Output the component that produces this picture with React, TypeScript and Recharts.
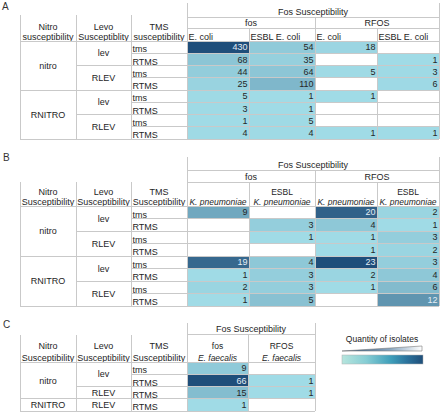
import React from 'react';
import { ScatterChart, Scatter, XAxis, YAxis, ReferenceArea } from 'recharts';

const FONT = '"Liberation Sans", Arial, Helvetica, sans-serif';
const STROKE = '#c9c9c9';
const LIGHT = [160, 219, 230];
const DARK = [31, 78, 122];

// row labels
const nitroAB = ['nitro', 'nitro', 'nitro', 'nitro', 'RNITRO', 'RNITRO', 'RNITRO', 'RNITRO'];
const levoAB = ['lev', 'lev', 'RLEV', 'RLEV', 'lev', 'lev', 'RLEV', 'RLEV'];
const tmsAB = ['tms', 'RTMS', 'tms', 'RTMS', 'tms', 'RTMS', 'tms', 'RTMS'];
const nitroC = ['nitro', 'nitro', 'nitro', 'RNITRO'];
const levoC = ['lev', 'lev', 'RLEV', 'RLEV'];
const tmsC = ['tms', 'RTMS', 'RTMS', 'RTMS'];

// header texts
const leftHeadA = [['Nitro', 'susceptibility'], ['Levo', 'Susceptiblity'], ['TMS', 'susceptibility']];
const leftHeadBC = [['Nitro', 'Susceptibility'], ['Levo', 'Susceptibility'], ['TMS', 'Susceptibility']];
const groupsAB = ['fos', 'RFOS'];
const speciesA = ['E. coli', 'ESBL E. coli', 'E. coli', 'ESBL E. coli'];
const speciesB = [['', 'K. pneumoniae'], ['ESBL', 'K. pneumoniae'], ['', 'K. pneumoniae'], ['ESBL', 'K. pneumoniae']];
const speciesC = [['fos', 'E. faecalis'], ['RFOS', 'E. faecalis']];

// panel A - E. coli
const fosEcoliA = [430, 68, 44, 25, 5, 3, 1, 4];
const fosEsblEcoliA = [54, 35, 64, 110, 1, 1, 5, 4];
const rfosEcoliA = [18, null, 5, null, 1, null, null, 1];
const rfosEsblEcoliA = [null, 1, 3, 6, null, null, null, 1];

// panel B - K. pneumoniae
const fosKpnB = [9, null, null, null, 19, 1, 2, 1];
const fosEsblKpnB = [null, 3, 1, null, 4, 3, 3, 5];
const rfosKpnB = [20, 4, 1, 1, 23, 2, 1, null];
const rfosEsblKpnB = [2, 1, 3, 2, 3, 4, 6, 12];

// panel C - E. faecalis
const fosEfC = [9, 66, 15, 1];
const rfosEfC = [null, 1, 1, null];

type Txt = { t: string; i?: boolean };
type Box = {
  key: string;
  x1: number;
  x2: number;
  y1: number;
  y2: number;
  fill: string;
  sides: string;
  lines: Txt[];
  align: 'start' | 'middle';
  valign: 'center' | 'bottom';
  size: number;
  gap: number;
  pad: number;
};
type Pt = { x: number; y: number; v: number; dark: boolean };

type Layout = {
  id: string;
  cols: number[];
  fosTop: number;
  fosBottom: number;
  groupBottom: number | null;
  leftTop: number;
  headBottom: number;
  rowH: number;
  gap: number;
};

const layoutA: Layout = { id: 'A', cols: [20, 76, 131, 187, 249, 315, 377, 439], fosTop: 3, fosBottom: 17, groupBottom: 28, leftTop: 15, headBottom: 41, rowH: 12.25, gap: 10 };
const layoutB: Layout = { id: 'B', cols: [20, 76, 131, 187, 249, 315, 377, 439], fosTop: 157, fosBottom: 170, groupBottom: 182, leftTop: 182, headBottom: 206, rowH: 12.5, gap: 10 };
const layoutC: Layout = { id: 'C', cols: [20, 76, 131, 187, 248, 315], fosTop: 323, fosBottom: 334, groupBottom: null, leftTop: 335, headBottom: 362, rowH: 12.25, gap: 11.5 };

function heat(v: number, max: number) {
  const t = max > 1 ? (v - 1) / (max - 1) : 0;
  const c = LIGHT.map((l, i) => Math.round(l + (DARK[i] - l) * t));
  return { fill: `rgb(${c.join(',')})`, dark: t > 0.45 };
}

function spans(labels: string[], parents?: string[]) {
  const out: { label: string; start: number; end: number }[] = [];
  labels.forEach((l, i) => {
    const last = out[out.length - 1];
    const same = last && last.label === l && (!parents || parents[i] === parents[i - 1]);
    if (same) last.end = i;
    else out.push({ label: l, start: i, end: i });
  });
  return out;
}

function buildPanel(
  L: Layout,
  nitro: string[],
  levo: string[],
  tms: string[],
  leftHead: string[][],
  groups: string[] | null,
  species: Txt[][],
  speciesAlign: 'start' | 'middle',
  speciesSize: number,
  series: (number | null)[][]
) {
  const boxes: Box[] = [];
  const pts: Pt[] = [];
  const c = L.cols;
  const last = c[c.length - 1];
  const rowY = (i: number) => L.headBottom + i * L.rowH;
  const base = { fill: '#fff', sides: 'tblr', lines: [] as Txt[], align: 'middle' as const, valign: 'bottom' as const, size: 9, gap: L.gap, pad: 2 };

  boxes.push({ ...base, key: L.id + 'fos', x1: c[3], x2: last, y1: L.fosTop, y2: L.fosBottom, sides: 'lrb', lines: [{ t: 'Fos Susceptibility' }] });
  if (groups && L.groupBottom) {
    groups.forEach((g, k) => {
      boxes.push({ ...base, key: L.id + 'g' + k, x1: c[3 + k * 2], x2: c[5 + k * 2], y1: L.fosBottom, y2: L.groupBottom as number, lines: [{ t: g }] });
    });
  }
  const spTop = L.groupBottom ?? L.fosBottom;
  species.forEach((s, k) => {
    boxes.push({ ...base, key: L.id + 's' + k, x1: c[3 + k], x2: c[4 + k], y1: spTop, y2: L.headBottom, lines: s, align: speciesAlign, size: speciesSize, pad: 1.5 });
  });
  leftHead.forEach((h, k) => {
    boxes.push({ ...base, key: L.id + 'h' + k, x1: c[k], x2: c[k + 1], y1: L.leftTop, y2: L.headBottom, sides: 'lr', lines: h.map((t) => ({ t })), pad: 1.5 });
  });
  spans(nitro).forEach((s, k) => {
    boxes.push({ ...base, key: L.id + 'n' + k, x1: c[0], x2: c[1], y1: rowY(s.start), y2: rowY(s.end + 1), lines: [{ t: s.label }], valign: 'center' });
  });
  spans(levo, nitro).forEach((s, k) => {
    boxes.push({ ...base, key: L.id + 'l' + k, x1: c[1], x2: c[2], y1: rowY(s.start), y2: rowY(s.end + 1), lines: [{ t: s.label }], valign: 'center' });
  });
  tms.forEach((t, i) => {
    boxes.push({ ...base, key: L.id + 't' + i, x1: c[2], x2: c[3], y1: rowY(i), y2: rowY(i + 1), lines: [{ t }], align: 'start', pad: 1 });
  });
  const max = Math.max(...series.flat().filter((v): v is number => v != null));
  series.forEach((col, j) => {
    col.forEach((v, i) => {
      const h = v == null ? null : heat(v, max);
      boxes.push({ ...base, key: L.id + 'd' + j + '-' + i, x1: c[3 + j], x2: c[4 + j], y1: rowY(i), y2: rowY(i + 1), fill: h ? h.fill : '#fff' });
      if (v != null && h) pts.push({ x: c[4 + j], y: rowY(i) + L.rowH / 2, v, dark: h.dark });
    });
  });
  return { boxes, pts };
}

const pA = buildPanel(layoutA, nitroAB, levoAB, tmsAB, leftHeadA, groupsAB, speciesA.map((t) => [{ t }]), 'start', 9, [fosEcoliA, fosEsblEcoliA, rfosEcoliA, rfosEsblEcoliA]);
const pB = buildPanel(layoutB, nitroAB, levoAB, tmsAB, leftHeadBC, groupsAB, speciesB.map((s) => s.map((t, k) => ({ t, i: k === 1 }))), 'middle', 8.5, [fosKpnB, fosEsblKpnB, rfosKpnB, rfosEsblKpnB]);
const pC = buildPanel(layoutC, nitroC, levoC, tmsC, leftHeadBC, null, speciesC.map((s) => s.map((t, k) => ({ t, i: k === 1 }))), 'middle', 8.5, [fosEfC, rfosEfC]);

const allBoxes = [...pA.boxes, ...pB.boxes, ...pC.boxes];
const allPts = [...pA.pts, ...pB.pts, ...pC.pts];

function renderBox(p: any, b: Box) {
  const { x, y, width: w, height: h } = p;
  const ln = { stroke: STROKE, strokeWidth: 1, shapeRendering: 'crispEdges' as const };
  const n = b.lines.length;
  const tx = b.align === 'start' ? x + 1.5 : x + w / 2;
  const lastBase = b.valign === 'center' ? y + h / 2 + b.size * 0.36 : y + h - b.pad;
  return (
    <g>
      <rect x={x} y={y} width={w} height={h} fill={b.fill} stroke="none" />
      {b.sides.includes('t') && <line x1={x} y1={y} x2={x + w} y2={y} {...ln} />}
      {b.sides.includes('b') && <line x1={x} y1={y + h} x2={x + w} y2={y + h} {...ln} />}
      {b.sides.includes('l') && <line x1={x} y1={y} x2={x} y2={y + h} {...ln} />}
      {b.sides.includes('r') && <line x1={x + w} y1={y} x2={x + w} y2={y + h} {...ln} />}
      {b.lines.map((l, k) =>
        l.t ? (
          <text
            key={k}
            x={tx}
            y={lastBase - (n - 1 - k) * b.gap}
            textAnchor={b.align}
            fontSize={b.size}
            fontStyle={l.i ? 'italic' : 'normal'}
            fill="#1e1e1e"
            fontFamily={FONT}
          >
            {l.t}
          </text>
        ) : null
      )}
    </g>
  );
}

function ValueText(p: any) {
  const d: Pt = p.payload;
  return (
    <text x={p.cx - 1.5} y={p.cy + 3.2} textAnchor="end" fontSize={9} fill={d.dark ? '#e4edf5' : '#262626'} fontFamily={FONT}>
      {d.v}
    </text>
  );
}

export default function App() {
  return (
    <div style={{ position: 'absolute', left: 0, top: 0, width: 440, height: 412, background: '#fff', fontFamily: FONT }}>
      <ScatterChart width={440} height={412} margin={{ top: 0, right: 0, bottom: 0, left: 0 }}>
        <XAxis type="number" dataKey="x" domain={[0, 440]} hide allowDataOverflow />
        <YAxis type="number" dataKey="y" domain={[0, 412]} reversed hide allowDataOverflow />
        {allBoxes.map((b) => (
          <ReferenceArea
            key={b.key}
            x1={b.x1}
            x2={b.x2}
            y1={b.y1}
            y2={b.y2}
            ifOverflow="visible"
            shape={(p: any) => renderBox(p, b)}
          />
        ))}
        <Scatter data={allPts} isAnimationActive={false} shape={ValueText} />
      </ScatterChart>
      <svg width={440} height={412} style={{ position: 'absolute', left: 0, top: 0, pointerEvents: 'none' }}>
        <defs>
          <linearGradient id="barGrad" x1="0" x2="1" y1="0" y2="0">
            <stop offset="0" stopColor="#b6e5dd" />
            <stop offset="0.3" stopColor="#86cdd4" />
            <stop offset="0.6" stopColor="#3f9fba" />
            <stop offset="0.8" stopColor="#2b739d" />
            <stop offset="1" stopColor="#1f4e79" />
          </linearGradient>
          <linearGradient id="wedgeGrad" x1="0" x2="1" y1="0" y2="0">
            <stop offset="0" stopColor="#1f4e79" />
            <stop offset="0.6" stopColor="#8aa7c0" />
            <stop offset="1" stopColor="#ffffff" />
          </linearGradient>
        </defs>
        <g fontFamily={FONT} fill="#333" fontSize={10}>
          <text x={2} y={10}>A</text>
          <text x={3} y={161}>B</text>
          <text x={3} y={328}>C</text>
        </g>
        <text x={382} y={342} textAnchor="middle" fontSize={8.5} fill="#222" fontFamily={FONT}>
          Quantity of isolates
        </text>
        <polygon points="342,351 422,346 422,351" fill="url(#wedgeGrad)" stroke="#7a7a7a" strokeWidth={0.6} />
        <rect x={342} y={355} width={81} height={9} fill="url(#barGrad)" stroke="#b0b0b0" strokeWidth={0.5} />
      </svg>
    </div>
  );
}
